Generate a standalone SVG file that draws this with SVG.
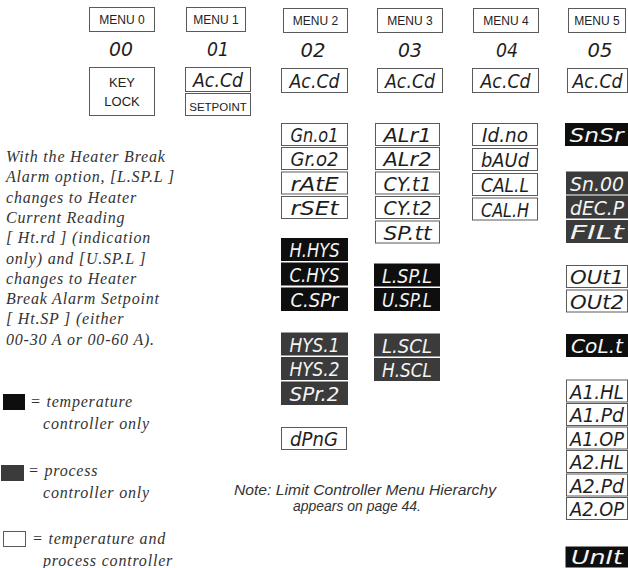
<svg xmlns="http://www.w3.org/2000/svg" width="628" height="568" viewBox="0 0 628 568">
<style>
.bg{fill:#ffffff}
.w{fill:#ffffff;stroke:#5a5a5a;stroke-width:1}
.k{fill:#0e0e0e;stroke:#0e0e0e;stroke-width:1}
.g{fill:#3b3b3b;stroke:#3b3b3b;stroke-width:1}
.lbl{font-family:"Liberation Sans",Arial,sans-serif;font-size:12px;fill:#222;text-anchor:middle}
.seg{font-family:"DejaVu Sans",sans-serif;font-style:oblique;font-weight:300;font-size:19px;fill:#1e1e1e;text-anchor:middle}
.segw{fill:#f4f4f4}
.num{font-family:"DejaVu Sans",sans-serif;font-style:oblique;font-weight:300;font-size:19px;fill:#1e1e1e;text-anchor:middle}
.para{font-family:"Liberation Serif","Times New Roman",serif;font-style:italic;font-size:16px;letter-spacing:0.8px;fill:#333}
.note{font-family:"Liberation Sans",Arial,sans-serif;font-style:italic;font-size:14px;fill:#333}
</style>
<rect class="bg" x="0" y="0" width="628" height="568"/>

<g id="menu-headers">
  <g id="menu0"><rect class="w" x="89.5" y="7.5" width="65" height="24"/><text class="lbl" x="122" y="24">MENU 0</text></g>
  <g id="menu1"><rect class="w" x="186.5" y="7.5" width="59" height="24"/><text class="lbl" x="216" y="24">MENU 1</text></g>
  <g id="menu2"><rect class="w" x="283.5" y="8.5" width="64" height="24"/><text class="lbl" x="315.5" y="25">MENU 2</text></g>
  <g id="menu3"><rect class="w" x="377.5" y="8.5" width="65" height="24"/><text class="lbl" x="410" y="25">MENU 3</text></g>
  <g id="menu4"><rect class="w" x="473.5" y="8.5" width="65" height="24"/><text class="lbl" x="506" y="25">MENU 4</text></g>
  <g id="menu5"><rect class="w" x="568.5" y="8.5" width="57" height="24"/><text class="lbl" x="597" y="25">MENU 5</text></g>
</g>

<g id="menu-numbers">
  <text class="num" x="121" y="56" textLength="24" lengthAdjust="spacingAndGlyphs">00</text>
  <text class="num" x="218" y="56" textLength="22" lengthAdjust="spacingAndGlyphs">01</text>
  <text class="num" x="313" y="57" textLength="25" lengthAdjust="spacingAndGlyphs">02</text>
  <text class="num" x="410" y="57" textLength="24" lengthAdjust="spacingAndGlyphs">03</text>
  <text class="num" x="507" y="57" textLength="22" lengthAdjust="spacingAndGlyphs">04</text>
  <text class="num" x="600" y="57" textLength="25" lengthAdjust="spacingAndGlyphs">05</text>
</g>

<g id="keylock"><rect class="w" x="89.5" y="67.5" width="65" height="48"/>
  <text class="lbl" x="122" y="87" style="font-size:13px">KEY</text>
  <text class="lbl" x="122" y="106" style="font-size:13px">LOCK</text></g>
<g id="m1-accd"><rect class="w" x="185.5" y="67.5" width="65" height="24"/><text class="seg" x="218" y="86.5" textLength="50" lengthAdjust="spacingAndGlyphs">Ac.Cd</text></g>
<g id="setpoint"><rect class="w" x="185.5" y="93.5" width="65" height="22"/><text class="lbl" x="218" y="110.5" style="font-size:11.5px">SETPOINT</text></g>
<g id="m2-accd"><rect class="w" x="281.5" y="68.5" width="66" height="24"/><text class="seg" x="314.5" y="87.5" textLength="50" lengthAdjust="spacingAndGlyphs">Ac.Cd</text></g>
<g id="m3-accd"><rect class="w" x="377.5" y="68.5" width="65" height="24"/><text class="seg" x="410" y="87.5" textLength="50" lengthAdjust="spacingAndGlyphs">Ac.Cd</text></g>
<g id="m4-accd"><rect class="w" x="472.5" y="68.5" width="66" height="24"/><text class="seg" x="505.5" y="87.5" textLength="50" lengthAdjust="spacingAndGlyphs">Ac.Cd</text></g>
<g id="m5-accd"><rect class="w" x="567.5" y="68.5" width="60" height="24"/><text class="seg" x="597.5" y="87.5" textLength="50" lengthAdjust="spacingAndGlyphs">Ac.Cd</text></g>

<!-- Menu 2 column -->
<g id="gno1"><rect class="w" x="281.5" y="123.5" width="66" height="22"/><text class="seg" x="314.5" y="142" textLength="48" lengthAdjust="spacingAndGlyphs">Gn.o1</text></g>
<g id="gro2"><rect class="w" x="281.5" y="147.5" width="66" height="22"/><text class="seg" x="314.5" y="166" textLength="48" lengthAdjust="spacingAndGlyphs">Gr.o2</text></g>
<g id="rate"><rect class="w" x="281.5" y="172" width="66" height="22"/><text class="seg" x="314.5" y="190.5" textLength="48" lengthAdjust="spacingAndGlyphs">rAtE</text></g>
<g id="rset"><rect class="w" x="281.5" y="196.5" width="66" height="22"/><text class="seg" x="314.5" y="215" textLength="48" lengthAdjust="spacingAndGlyphs">rSEt</text></g>
<g id="hhys"><rect class="k" x="281.5" y="238.5" width="66" height="22"/><text class="seg segw" x="314.5" y="257" textLength="50" lengthAdjust="spacingAndGlyphs">H.HYS</text></g>
<g id="chys"><rect class="k" x="281.5" y="263" width="66" height="22"/><text class="seg segw" x="314.5" y="281.5" textLength="50" lengthAdjust="spacingAndGlyphs">C.HYS</text></g>
<g id="cspr"><rect class="k" x="281.5" y="288" width="66" height="22.5"/><text class="seg segw" x="314.5" y="306.5" textLength="48" lengthAdjust="spacingAndGlyphs">C.SPr</text></g>
<g id="hys1"><rect class="g" x="281.5" y="333" width="66" height="22"/><text class="seg segw" x="314.5" y="351.5" textLength="50" lengthAdjust="spacingAndGlyphs">HYS.1</text></g>
<g id="hys2"><rect class="g" x="281.5" y="357.5" width="66" height="22"/><text class="seg segw" x="314.5" y="376" textLength="50" lengthAdjust="spacingAndGlyphs">HYS.2</text></g>
<g id="spr2"><rect class="g" x="281.5" y="382" width="66" height="22.5"/><text class="seg segw" x="314.5" y="400.5" textLength="50" lengthAdjust="spacingAndGlyphs">SPr.2</text></g>
<g id="dpng"><rect class="w" x="281.5" y="427.5" width="65" height="22"/><text class="seg" x="314" y="446" textLength="48" lengthAdjust="spacingAndGlyphs">dPnG</text></g>

<!-- Menu 3 column -->
<g id="alr1"><rect class="w" x="375.5" y="123.5" width="64" height="22"/><text class="seg" x="407.5" y="142" textLength="48" lengthAdjust="spacingAndGlyphs">ALr1</text></g>
<g id="alr2"><rect class="w" x="375.5" y="147.5" width="64" height="22"/><text class="seg" x="407.5" y="166" textLength="48" lengthAdjust="spacingAndGlyphs">ALr2</text></g>
<g id="cyt1"><rect class="w" x="375.5" y="172" width="64" height="22"/><text class="seg" x="407.5" y="190.5" textLength="48" lengthAdjust="spacingAndGlyphs">CY.t1</text></g>
<g id="cyt2"><rect class="w" x="375.5" y="196.5" width="64" height="22"/><text class="seg" x="407.5" y="215" textLength="48" lengthAdjust="spacingAndGlyphs">CY.t2</text></g>
<g id="sptt"><rect class="w" x="375.5" y="221" width="64" height="22"/><text class="seg" x="407.5" y="239.5" textLength="48" lengthAdjust="spacingAndGlyphs">SP.tt</text></g>
<g id="lspl"><rect class="k" x="374.5" y="264" width="65" height="22"/><text class="seg segw" x="407" y="282.5" textLength="50" lengthAdjust="spacingAndGlyphs">L.SP.L</text></g>
<g id="uspl"><rect class="k" x="374.5" y="288.5" width="65" height="22"/><text class="seg segw" x="407" y="307" textLength="50" lengthAdjust="spacingAndGlyphs">U.SP.L</text></g>
<g id="lscl"><rect class="g" x="374.5" y="334" width="65" height="22"/><text class="seg segw" x="407" y="352.5" textLength="50" lengthAdjust="spacingAndGlyphs">L.SCL</text></g>
<g id="hscl"><rect class="g" x="374.5" y="358.5" width="65" height="22"/><text class="seg segw" x="407" y="377" textLength="50" lengthAdjust="spacingAndGlyphs">H.SCL</text></g>

<!-- Menu 4 column -->
<g id="idno"><rect class="w" x="472.5" y="123.5" width="65" height="22"/><text class="seg" x="505" y="142" textLength="46" lengthAdjust="spacingAndGlyphs">Id.no</text></g>
<g id="baud"><rect class="w" x="472.5" y="148.5" width="65" height="22"/><text class="seg" x="505" y="167" textLength="48" lengthAdjust="spacingAndGlyphs">bAUd</text></g>
<g id="call"><rect class="w" x="472.5" y="173.5" width="65" height="22"/><text class="seg" x="505" y="192" textLength="48" lengthAdjust="spacingAndGlyphs">CAL.L</text></g>
<g id="calh"><rect class="w" x="472.5" y="198" width="65" height="22"/><text class="seg" x="505" y="216.5" textLength="48" lengthAdjust="spacingAndGlyphs">CAL.H</text></g>

<!-- Menu 5 column -->
<g id="snsr"><rect class="k" x="565.5" y="123.5" width="62" height="22"/><text class="seg segw" x="596.5" y="142" textLength="54" lengthAdjust="spacingAndGlyphs">SnSr</text></g>
<g id="sn00"><rect class="g" x="566.5" y="172" width="61" height="22"/><text class="seg segw" x="597" y="190.5" textLength="54" lengthAdjust="spacingAndGlyphs">Sn.00</text></g>
<g id="decp"><rect class="g" x="566.5" y="196" width="61" height="22"/><text class="seg segw" x="597" y="214.5" textLength="54" lengthAdjust="spacingAndGlyphs">dEC.P</text></g>
<g id="filt"><rect class="g" x="566.5" y="220.5" width="61" height="22"/><text class="seg segw" x="597" y="239" textLength="54" lengthAdjust="spacingAndGlyphs">FILt</text></g>
<g id="out1"><rect class="w" x="566.5" y="265.5" width="61" height="22"/><text class="seg" x="597" y="284" textLength="54" lengthAdjust="spacingAndGlyphs">OUt1</text></g>
<g id="out2"><rect class="w" x="566.5" y="290" width="61" height="22"/><text class="seg" x="597" y="308.5" textLength="54" lengthAdjust="spacingAndGlyphs">OUt2</text></g>
<g id="colt"><rect class="k" x="566.5" y="334.5" width="61" height="22"/><text class="seg segw" x="597" y="353" textLength="52" lengthAdjust="spacingAndGlyphs">CoL.t</text></g>
<g id="a1hl"><rect class="w" x="566.5" y="380" width="61" height="22"/><text class="seg" x="597" y="398.5" textLength="54" lengthAdjust="spacingAndGlyphs">A1.HL</text></g>
<g id="a1pd"><rect class="w" x="566.5" y="403.5" width="61" height="22"/><text class="seg" x="597" y="422" textLength="54" lengthAdjust="spacingAndGlyphs">A1.Pd</text></g>
<g id="a1op"><rect class="w" x="566.5" y="427" width="61" height="22"/><text class="seg" x="597" y="445.5" textLength="54" lengthAdjust="spacingAndGlyphs">A1.OP</text></g>
<g id="a2hl"><rect class="w" x="566.5" y="450.5" width="61" height="22"/><text class="seg" x="597" y="469" textLength="54" lengthAdjust="spacingAndGlyphs">A2.HL</text></g>
<g id="a2pd"><rect class="w" x="566.5" y="474" width="61" height="22"/><text class="seg" x="597" y="492.5" textLength="54" lengthAdjust="spacingAndGlyphs">A2.Pd</text></g>
<g id="a2op"><rect class="w" x="566.5" y="497.5" width="61" height="22"/><text class="seg" x="597" y="516" textLength="54" lengthAdjust="spacingAndGlyphs">A2.OP</text></g>
<g id="unit"><rect class="k" x="566" y="547" width="62" height="20"/><text class="seg segw" x="597" y="564" textLength="52" lengthAdjust="spacingAndGlyphs">UnIt</text></g>

<g id="connectors"></g>

<g id="heater-note">
  <text class="para" x="6" y="162">With the Heater Break</text>
  <text class="para" x="6" y="182.3">Alarm option, [L.SP.L ]</text>
  <text class="para" x="6" y="202.6">changes to Heater</text>
  <text class="para" x="6" y="222.9">Current Reading</text>
  <text class="para" x="6" y="243.2">[ Ht.rd ] (indication</text>
  <text class="para" x="6" y="263.5">only) and [U.SP.L ]</text>
  <text class="para" x="6" y="283.8">changes to Heater</text>
  <text class="para" x="6" y="304.1">Break Alarm Setpoint</text>
  <text class="para" x="6" y="324.4">[ Ht.SP ] (either</text>
  <text class="para" x="6" y="344.7">00-30 A or 00-60 A).</text>
</g>

<g id="legend">
  <rect x="3" y="394" width="22" height="16" fill="#0e0e0e"/>
  <text class="para" x="30" y="407">= temperature</text>
  <text class="para" x="43" y="429">controller only</text>
  <rect x="1" y="465" width="23" height="16" fill="#3b3b3b"/>
  <text class="para" x="28" y="476">= process</text>
  <text class="para" x="43" y="498">controller only</text>
  <rect class="w" x="3.5" y="531.5" width="22" height="15"/>
  <text class="para" x="32" y="544">= temperature and</text>
  <text class="para" x="43" y="566">process controller</text>
</g>

<g id="limit-note">
  <text class="note" x="234" y="495" textLength="262" lengthAdjust="spacingAndGlyphs">Note: Limit Controller Menu Hierarchy</text>
  <text class="note" x="293" y="511" textLength="128" lengthAdjust="spacingAndGlyphs">appears on page 44.</text>
</g>
</svg>
